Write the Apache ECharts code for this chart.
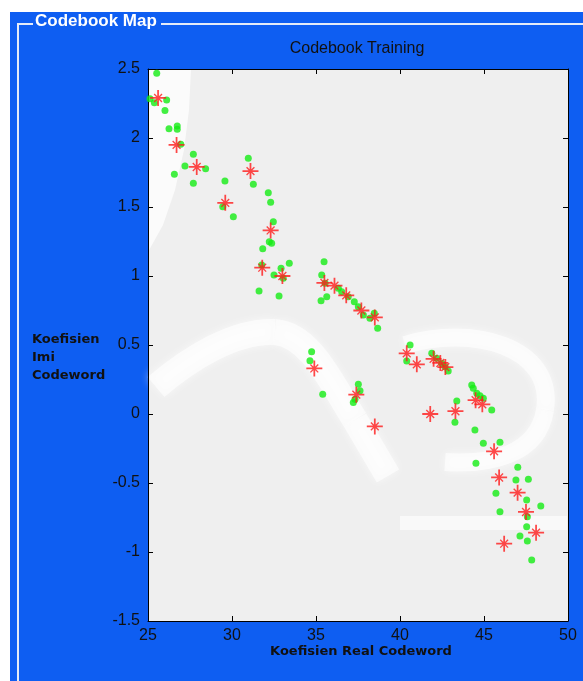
<!DOCTYPE html>
<html><head><meta charset="utf-8">
<script src="https://cdn.jsdelivr.net/npm/echarts@6/dist/echarts.min.js"></script>
<style>html,body{margin:0;padding:0;background:#fff;}#c{width:583px;height:681px;}</style>
</head><body><div id="c"></div>
<script>
// Tick labels
const xTicks = [25, 30, 35, 40, 45, 50];
const yTicks = [-1.5, -1, -0.5, 0, 0.5, 1, 1.5, 2, 2.5];
const yTickLabels = ['-1.5', '-1', '-0.5', '0', '0.5', '1', '1.5', '2', '2.5'];

// Codebook vectors (red stars)
const starX = [25.6, 26.7, 27.9, 29.6, 31.1, 32.3, 31.8, 33.0, 35.5, 36.1, 36.8, 37.7, 38.5,
  40.4, 41.0, 42.0, 42.4, 42.7, 44.5, 44.9, 41.8, 43.3, 34.9, 37.4, 38.5,
  45.6, 45.9, 47.0, 47.5, 48.1, 46.2];
const starY = [2.29, 1.95, 1.79, 1.53, 1.76, 1.33, 1.06, 1.00, 0.95, 0.93, 0.86, 0.75, 0.70,
  0.44, 0.36, 0.40, 0.37, 0.34, 0.10, 0.07, 0.00, 0.02, 0.33, 0.14, -0.09,
  -0.27, -0.46, -0.57, -0.71, -0.86, -0.94];

// Training vectors (green dots)
const dotX = [25.52, 25.12, 25.38, 26.11, 26.01, 26.25, 26.74, 26.74, 26.95, 27.70, 27.20, 28.43,
  26.57, 27.70, 29.58, 30.97, 31.27, 32.16, 32.30, 29.45, 30.08, 32.46, 32.22, 32.36, 31.83,
  33.41, 32.92, 31.77, 32.50, 33.05, 31.61, 32.80, 35.48, 35.34, 35.54, 36.33, 36.53, 36.92,
  37.28, 37.52, 37.82, 38.21, 38.47, 38.67, 35.30, 35.64, 40.60, 34.74, 34.64, 35.40, 37.52,
  37.62, 37.32, 37.22, 40.40, 41.89, 42.18, 42.48, 42.68, 42.87, 44.27, 44.36, 44.57, 44.76,
  44.96, 43.38, 45.46, 43.27, 44.46, 44.96, 45.95, 44.52, 47.01, 46.90, 47.64, 45.71, 47.54,
  48.38, 45.95, 47.58, 47.54, 47.14, 47.58, 47.84];
const dotY = [2.469, 2.285, 2.256, 2.275, 2.20, 2.067, 2.087, 2.063, 1.954, 1.882, 1.797, 1.778,
  1.737, 1.672, 1.688, 1.853, 1.664, 1.604, 1.534, 1.502, 1.430, 1.393, 1.249, 1.237, 1.198,
  1.092, 1.056, 1.080, 1.007, 0.983, 0.891, 0.855, 1.104, 1.007, 0.947, 0.911, 0.886, 0.850,
  0.814, 0.778, 0.717, 0.693, 0.730, 0.621, 0.821, 0.850, 0.500, 0.451, 0.386, 0.143, 0.215,
  0.169, 0.107, 0.083, 0.384, 0.440, 0.404, 0.368, 0.343, 0.312, 0.210, 0.186, 0.150, 0.133,
  0.114, 0.094, 0.029, -0.060, -0.116, -0.212, -0.205, -0.357, -0.386, -0.478, -0.473, -0.575,
  -0.623, -0.667, -0.708, -0.744, -0.817, -0.884, -0.920, -1.058];

const stars = starX.map((x, i) => [x, starY[i]]);
const dots = dotX.map((x, i) => [x, dotY[i]]);

const starPath = 'path://M-1.1,-10 L1.1,-10 L1.1,-1.1 L10,-1.1 L10,1.1 L1.1,1.1 L1.1,10 L-1.1,10 L-1.1,1.1 L-10,1.1 L-10,-1.1 L-1.1,-1.1 Z ' +
  'M-5.5,-4.3 L-4.3,-5.5 L5.5,4.3 L4.3,5.5 Z M4.3,-5.5 L5.5,-4.3 L-4.3,5.5 L-5.5,4.3 Z';

const chart = echarts.init(document.getElementById('c'), null, {renderer: 'canvas'});
const axisCommon = {
  axisLine: {show: true, onZero: false, lineStyle: {color: '#000', width: 1}},
  axisTick: {show: true, inside: true, length: 5, lineStyle: {color: '#000'}},
  splitLine: {show: false}
};
const wm = (w) => ({fill: null, stroke: '#ffffff', opacity: 0.6, lineWidth: w, lineCap: 'butt', shadowBlur: 10, shadowColor: '#ffffff'});
chart.setOption({
  animation: false,
  backgroundColor: 'transparent',
  graphic: [
    {type: 'rect', shape: {x: 10, y: 12, width: 580, height: 680}, style: {fill: '#0e5ef2'}, z: -10},
    {type: 'polyline', shape: {points: [[18, 700], [18, 24], [33, 24]]}, style: {stroke: '#e4ebf8', lineWidth: 2, fill: null}, z: -9},
    {type: 'line', shape: {x1: 161, y1: 24, x2: 590, y2: 24}, style: {stroke: '#e4ebf8', lineWidth: 2}, z: -9},
    {type: 'text', x: 35, y: 13, style: {text: 'Codebook Map', fill: '#ffffff', font: 'bold 17px "Liberation Sans", Arial, sans-serif'}, z: -8},
    // plot background and faint watermark, clipped to the plot box
    {type: 'group', left: 148, top: 69, bounding: 'raw', z: -7, children: [
      {type: 'rect', shape: {x: 0, y: 0, width: 420, height: 552}, style: {fill: '#efefef'}, z: -7},
      {type: 'polygon', shape: {points: [[0, 1], [43, 1], [41, 41], [36, 81], [27, 121], [15, 156], [0, 183]]}, style: {fill: '#ffffff', opacity: 0.75}, z: -6},
      {type: 'bezierCurve', shape: {x1: 8, y1: 318, cpx1: 42, cpy1: 289, cpx2: 87, cpy2: 261, x2: 127, y2: 263}, style: wm(26), z: -6},
      {type: 'bezierCurve', shape: {x1: 127, y1: 263, cpx1: 162, cpy1: 266, cpx2: 182, cpy2: 311, x2: 207, y2: 351}, style: wm(26), z: -6},
      {type: 'line', shape: {x1: 207, y1: 351, x2: 240, y2: 407}, style: wm(26), z: -6},
      {type: 'bezierCurve', shape: {x1: 257, y1: 276, cpx1: 322, cpy1: 256, cpx2: 407, cpy2: 276, x2: 397, y2: 341}, style: wm(18), z: -6},
      {type: 'bezierCurve', shape: {x1: 397, y1: 341, cpx1: 390, cpy1: 386, cpx2: 342, cpy2: 396, x2: 297, y2: 393}, style: wm(18), z: -6},
      {type: 'rect', shape: {x: 252, y: 447, width: 167, height: 14}, style: {fill: '#ffffff', opacity: 0.6}, z: -6}
    ]},
    {type: 'text', x: 357, y: 41, style: {text: 'Codebook Training', fill: '#111', font: '16px "Liberation Sans", Arial, sans-serif', textAlign: 'center'}},
    {type: 'text', x: 32, y: 331, style: {text: 'Koefisien\nImi\nCodeword', fill: '#111', font: 'bold 13px "DejaVu Sans", sans-serif', lineHeight: 18}},
    {type: 'text', x: 361, y: 645, style: {text: 'Koefisien Real Codeword', fill: '#111', font: 'bold 13px "DejaVu Sans", sans-serif', textAlign: 'center'}}
  ],
  grid: {left: 148, right: 15, top: 69, bottom: 60, show: false},
  xAxis: [
    Object.assign({type: 'value', min: xTicks[0], max: xTicks[xTicks.length - 1], interval: 5, position: 'bottom',
      axisLabel: {color: '#111', fontSize: 16, fontFamily: '"Liberation Sans", Arial, sans-serif', margin: 7,
        formatter: v => String(xTicks.find(t => Math.abs(t - v) < 1e-9))}}, axisCommon),
    Object.assign({type: 'value', min: xTicks[0], max: xTicks[xTicks.length - 1], interval: 5, position: 'top',
      axisLabel: {show: false}}, axisCommon)
  ],
  yAxis: [
    Object.assign({type: 'value', min: yTicks[0], max: yTicks[yTicks.length - 1], interval: 0.5, position: 'left',
      axisLabel: {color: '#111', fontSize: 16, fontFamily: '"Liberation Sans", Arial, sans-serif', margin: 8,
        formatter: v => yTickLabels[yTicks.findIndex(t => Math.abs(t - v) < 1e-9)]}}, axisCommon),
    Object.assign({type: 'value', min: yTicks[0], max: yTicks[yTicks.length - 1], interval: 0.5, position: 'right',
      axisLabel: {show: false}}, axisCommon)
  ],
  series: [
    {type: 'scatter', data: dots, symbol: 'circle', symbolSize: 7, itemStyle: {color: '#14ec14'}, z: 3},
    {type: 'scatter', data: stars, symbol: starPath, symbolSize: 16, itemStyle: {color: '#ff1a1a'}, z: 4}
  ]
});
</script></body></html>
